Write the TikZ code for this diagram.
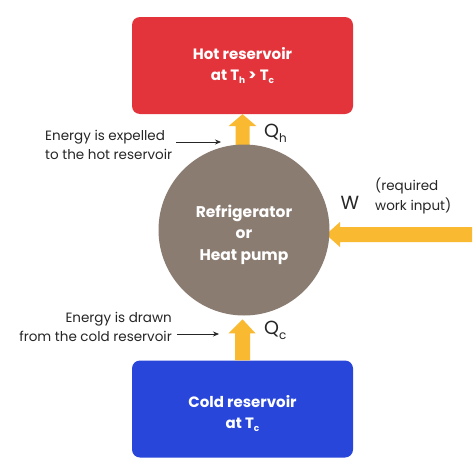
\documentclass[tikz,border=0pt]{standalone}
\usepackage{fontspec}
\setmainfont{Poppins}
\usetikzlibrary{calc,arrows.meta}
\definecolor{hotred}{HTML}{E3343B}
\definecolor{coldblue}{HTML}{2846DA}
\definecolor{pumpbrown}{HTML}{8B7C72}
\definecolor{flowyellow}{HTML}{F9BA32}
\newcommand{\lowsub}[1]{\raisebox{-3.5pt}{\fontsize{9}{9}\selectfont #1}}
\newcommand{\qsub}[1]{\raisebox{-5pt}{\fontsize{12}{12}\selectfont #1}}
\tikzset{
  reservoir/.style={rounded corners=8pt, minimum width=221pt, minimum height=97pt, inner sep=0pt},
  boxtext/.style={inner sep=0pt, text=white, font=\fontsize{15}{21}\selectfont\bfseries, align=center},
  pump/.style={circle, fill=pumpbrown, minimum size=171pt, inner sep=0pt},
  pumptext/.style={inner sep=0pt, text=white, font=\fontsize{15.5}{21.5}\selectfont\bfseries, align=center},
  flow/.style={fill=flowyellow},
  note/.style={font=\fontsize{13.5}{19.5}\selectfont, inner sep=0pt, text=black!85},
  qlabel/.style={font=\fontsize{19}{20}\selectfont, inner sep=0pt, text=black!85},
  pointer/.style={draw=black!85, line width=0.7pt, -{Stealth[length=6pt,width=5pt]}}
}
\begin{document}
\begin{tikzpicture}[x=1pt,y=-1pt]
\useasboundingbox (0,0) rectangle (474,474);
\fill[white] (0,0) rectangle (474,474);
% reservoirs
\node[reservoir, fill=hotred] (hot) at (242.5,65.5) {};
\node[boxtext] (hottext) at ($(hot.center)+(0,0)$) {Hot reservoir\\at T\lowsub{h} > T\lowsub{c}};
\node[reservoir, fill=coldblue] (cold) at (242.5,409) {};
\node[boxtext] (coldtext) at ($(cold.center)+(0,4.5)$) {Cold reservoir\\at T\lowsub{c}};
% flow arrows (under the circle)
\coordinate (pc) at (244,230);
\fill[flow] ($(hot.south)+(-7,45)$) -- ($(hot.south)+(-7,12)$) -- ($(hot.south)+(-14,12)$)
  -- (hot.south) -- ($(hot.south)+(14,12)$) -- ($(hot.south)+(7,12)$) -- ($(hot.south)+(7,45)$) -- cycle;
\fill[flow] ($(cold.north)+(-7.5,0)$) -- ($(cold.north)+(-7.5,-27)$) -- ($(cold.north)+(-14,-27)$)
  -- ($(cold.north)+(0,-41)$) -- ($(cold.north)+(13,-27)$) -- ($(cold.north)+(7.5,-27)$) -- ($(cold.north)+(7.5,0)$) -- cycle;
\coordinate (wsrc) at (472,234.5);
\fill[flow] ($(wsrc)+(0,-7.5)$) -- (340,227) -- (340,222) -- (326,234.5) -- (340,247) -- (340,242) -- ($(wsrc)+(0,7.5)$) -- cycle;
% pump
\node[pump] (pump) at (pc) {};
\node[pumptext] (pumplabel) at ($(pump.center)+(0,4.5)$) {Refrigerator\\or\\Heat pump};
% labels
\node[qlabel, anchor=west] (qh) at (264,133) {Q\qsub{h}};
\node[qlabel, anchor=west] (qc) at (264,330) {Q\qsub{c}};
\node[qlabel, anchor=center] (w) at (350,203) {W};
\node[note, anchor=west, align=left] (wnote) at (375,196) {(required\\work input)};
\node[note, anchor=west, align=left] (hotnote) at (45,145) {Energy is expelled\\to the hot reservoir};
\node[note, anchor=east, align=right] (coldnote) at (172,327) {Energy is drawn\\from the cold reservoir};
\coordinate (hs) at (176,142);
\coordinate (hp) at (221,142);
\coordinate (cs) at (177,334);
\coordinate (cp) at (219,334);
\draw[pointer] (hs) -- (hp);
\draw[pointer] (cs) -- (cp);
\end{tikzpicture}
\end{document}
